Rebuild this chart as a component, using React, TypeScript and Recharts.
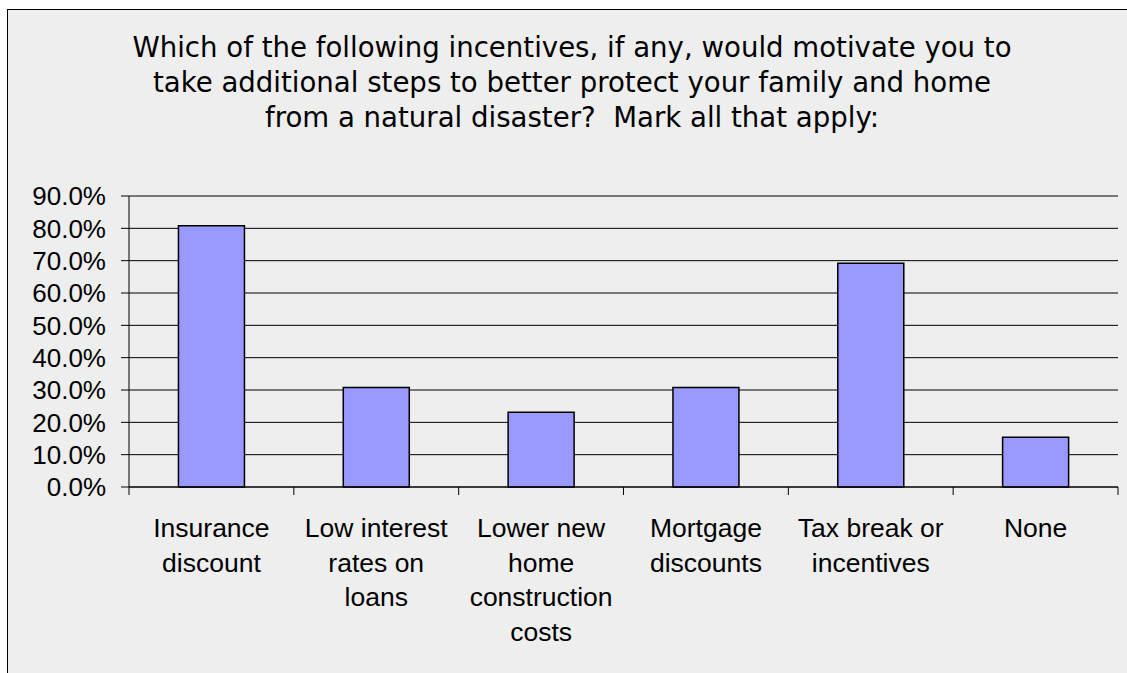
import React from 'react';
import { BarChart, Bar, XAxis, YAxis, CartesianGrid } from 'recharts';

const titleLines = [
  'Which of the following incentives, if any, would motivate you to',
  'take additional steps to better protect your family and home',
  'from a natural disaster?  Mark all that apply:',
];

const categories = [
  'Insurance discount',
  'Low interest rates on loans',
  'Lower new home construction costs',
  'Mortgage discounts',
  'Tax break or incentives',
  'None',
];

const tickLabelLines = [
  ['Insurance', 'discount'],
  ['Low interest', 'rates on', 'loans'],
  ['Lower new', 'home', 'construction', 'costs'],
  ['Mortgage', 'discounts'],
  ['Tax break or', 'incentives'],
  ['None'],
];

const shares = [0.808, 0.308, 0.231, 0.308, 0.692, 0.154];

const yTicks = [0, 0.1, 0.2, 0.3, 0.4, 0.5, 0.6, 0.7, 0.8, 0.9];

const data = categories.map((category, i) => ({ category, share: shares[i] }));

const LABEL_FONT = '"Liberation Sans", Arial, sans-serif';
const TITLE_FONT = '"DejaVu Sans", Verdana, sans-serif';

function CategoryTick(props: any) {
  const { x, y, payload, width, visibleTicksCount, index } = props;
  const i = categories.indexOf(payload.value);
  const lines = i >= 0 ? tickLabelLines[i] : [String(payload.value)];
  const band = (typeof width === 'number' ? width : 989) / (visibleTicksCount || categories.length);
  const left = x - band / 2;
  const right = x + band / 2;
  const isLast = index === (visibleTicksCount || categories.length) - 1;
  return (
    <g>
      <line x1={left} x2={left} y1={y} y2={y + 8} stroke="#000" />
      {isLast && <line x1={right} x2={right} y1={y} y2={y + 8} stroke="#000" />}
      <text x={x} y={y} textAnchor="middle" fontFamily={LABEL_FONT} fontSize={26.5} fill="#000">
        {lines.map((l, k) => (
          <tspan key={k} x={x} dy={k === 0 ? 50 : 34.6}>
            {l}
          </tspan>
        ))}
      </text>
    </g>
  );
}

export default function App() {
  return (
    <div style={{ position: 'fixed', left: 0, top: 0, width: 1127, height: 673, background: '#fff', overflow: 'hidden' }}>
      <div
        style={{
          position: 'absolute',
          left: 7,
          top: 9,
          width: 1160,
          height: 700,
          border: '1px solid #000',
          background: '#eeeeee',
        }}
      />
      <div
        style={{
          position: 'absolute',
          left: 0,
          top: 30,
          width: 1144,
          textAlign: 'center',
          fontFamily: TITLE_FONT,
          fontSize: 27.6,
          lineHeight: '35px',
          color: '#000',
          whiteSpace: 'pre',
        }}
      >
        {titleLines.map((t, i) => (
          <div key={i}>{t}</div>
        ))}
      </div>
      <div style={{ position: 'absolute', left: 0, top: 0 }}>
        <BarChart
          width={1127}
          height={673}
          data={data}
          margin={{ top: 196, right: 9, left: 8, bottom: 36 }}
          barCategoryGap="30%"
        >
          <CartesianGrid vertical={false} stroke="#000" />
          <XAxis
            dataKey="category"
            interval={0}
            tickLine={false}
            tickSize={0}
            tickMargin={0}
            axisLine={{ stroke: '#000' }}
            tick={<CategoryTick />}
            height={150}
          />
          <YAxis
            domain={[0, 0.9]}
            ticks={yTicks}
            interval={0}
            width={121}
            tickSize={8}
            tickMargin={15}
            axisLine={{ stroke: '#000' }}
            tickLine={{ stroke: '#000' }}
            tickFormatter={(v: number) => (v * 100).toFixed(1) + '%'}
            tick={{ fill: '#000', fontSize: 26, fontFamily: LABEL_FONT }}
          />
          <Bar
            dataKey="share"
            fill="#9999ff"
            stroke="#000"
            strokeWidth={1.5}
            isAnimationActive={false}
          />
        </BarChart>
      </div>
    </div>
  );
}
